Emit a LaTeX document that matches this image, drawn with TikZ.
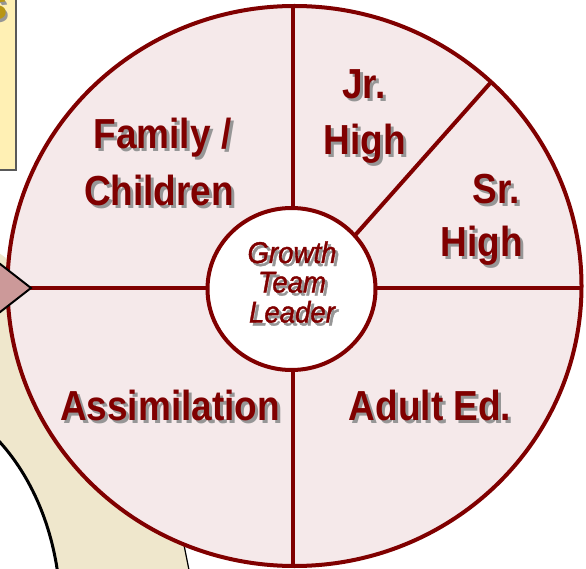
\documentclass[tikz,border=0pt]{standalone}
\usepackage{fontspec}
\setmainfont{Liberation Sans}
\newfontfamily\labfont[FakeStretch=0.88]{Liberation Sans Bold}
\newfontfamily\ctrfont[FakeStretch=0.92,FakeBold=1.2]{Liberation Sans Italic}
\definecolor{dred}{RGB}{128,0,0}
\definecolor{pinkfill}{RGB}{245,233,234}
\definecolor{beige}{RGB}{239,231,204}
\definecolor{yelbox}{RGB}{255,240,180}
\definecolor{trifill}{RGB}{204,153,153}
\definecolor{shgray}{RGB}{150,150,150}
\definecolor{gold}{RGB}{184,150,20}
\newcommand\shtxt[5]{%
  \node[#3sh] (#5-sh) at (#1+3,#2+3) {#4};
  \node[#3] (#5) at (#1,#2) {#4};}
\newcommand\shtxtc[5]{%
  \node[#3sh] (#5-sh) at (#1+3,#2+3) {#4};
  \node[#3] (#5) at (#1,#2) {#4};}
\begin{document}
\begin{tikzpicture}[x=1pt,y=-1pt,
  lab/.style={font=\labfont\fontsize{42}{48}\selectfont, inner sep=0pt, anchor=base, text=dred},
  labsh/.style={lab, text=shgray},
  ctr/.style={font=\ctrfont\fontsize{30}{32}\selectfont, inner sep=0pt, anchor=base, text=dred},
  ctrsh/.style={ctr, text=shgray},
  redline/.style={draw=dred, line width=4pt},
]
\useasboundingbox (0,0) rectangle (586,569);
% yellow box at top-left
\path[fill=yelbox, draw=black!65, line width=1.2pt] (-5,-5) rectangle (16,170);
\node[font=\bfseries\fontsize{44}{50}\selectfont, text=shgray, inner sep=0pt, anchor=base east] (gsh) at (10,23) {s};
\node[font=\bfseries\fontsize{44}{50}\selectfont, text=gold, inner sep=0pt, anchor=base east] (g) at (8,20) {s};
% beige band
\fill[beige] (-5,250) -- (40,283) -- (150,400) -- (183,540) -- (190,575) -- (59,575) -- (58,569)
  .. controls (50,515) and (25,468) .. (0,442) -- (-5,440) -- cycle;
\draw[black, line width=3pt] (-4,438) .. controls (25,468) and (50,515) .. (58,575);
\draw[black, line width=1.2pt] (170,480) -- (183,540) -- (190,575);
% outer circle
\coordinate (c) at (294.5,286);
\fill[pinkfill] (c) ellipse [x radius=287, y radius=280];
\begin{scope}
  \clip (c) ellipse [x radius=287, y radius=280];
  \coordinate (hl) at (0,288); \coordinate (hr) at (590,288);
  \coordinate (vt) at (293,0); \coordinate (vb) at (293,575);
  \coordinate (d1) at (520,49.5); \coordinate (d2) at (330,263.5);
  \draw[redline] (hl) -- (hr);
  \draw[redline] (vt) -- (vb);
  \draw[redline] (d1) -- (d2);
\end{scope}
\draw[redline] (c) ellipse [x radius=287, y radius=280];
% inner circle
\draw[redline, fill=white] (291.5,289) ellipse [x radius=84, y radius=81];
% triangle pointer
\draw[fill=trifill, draw=black, line width=2pt, line join=miter] (-5,260) -- (31,288) -- (-5,316) -- cycle;
% labels
\shtxt{162.5}{149}{lab}{Family /}{fam}
\shtxt{159}{206}{lab}{Children}{chi}
\shtxt{364}{99}{lab}{Jr.}{jr}
\shtxt{365}{155}{lab}{High}{jrh}
\shtxt{496}{204}{lab}{Sr.}{sr}
\shtxt{482}{257}{lab}{High}{srh}
\shtxt{170}{420}{lab}{Assimilation}{ass}
\shtxt{430}{420}{lab}{Adult Ed.}{adu}
\shtxtc{292}{263}{ctr}{Growth}{gro}
\shtxtc{292}{292.5}{ctr}{Team}{tea}
\shtxtc{292}{322.5}{ctr}{Leader}{lea}
\end{tikzpicture}
\end{document}
